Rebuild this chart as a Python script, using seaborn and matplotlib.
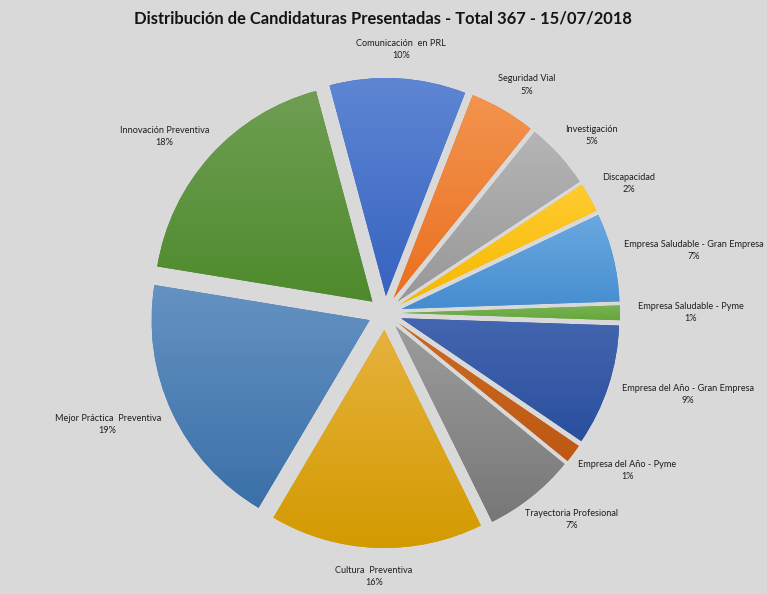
import numpy as np
import matplotlib
matplotlib.use("Agg")
import matplotlib.pyplot as plt
import seaborn as sns
from matplotlib.colors import LinearSegmentedColormap

# ---- data ----
categorias = [
    "Comunicación  en PRL",
    "Seguridad Vial",
    "Investigación",
    "Discapacidad",
    "Empresa Saludable - Gran Empresa",
    "Empresa Saludable - Pyme",
    "Empresa del Año - Gran Empresa",
    "Empresa del Año - Pyme",
    "Trayectoria Profesional",
    "Cultura  Preventiva",
    "Mejor Práctica  Preventiva",
    "Innovación Preventiva",
]
candidaturas = [37, 18, 18, 8, 24, 4, 33, 5, 25, 58, 70, 67]
titulo = "Distribución de Candidaturas Presentadas - Total 367 - 15/07/2018"

color_arriba = ["#5E86D4", "#F3944F", "#B5B5B5", "#FFCB30", "#6AA9E0", "#78B451",
                "#4466B0", "#CC6A24", "#9C9C9C", "#E6B23C", "#6592C2", "#6F9E53"]
color_abajo = ["#3763C0", "#EA7020", "#989898", "#F6B800", "#468DD0", "#66A63C",
               "#2A4F9E", "#BE5812", "#777777", "#D39A00", "#3A70A8", "#4E8A2C"]

# ---- style ----
BG = "#D9D9D9"
sns.set_theme(style="white", rc={"figure.facecolor": BG, "axes.facecolor": BG})
plt.rcParams["font.family"] = ["Lato", "DejaVu Sans"]

W, H, DPI = 767, 594, 100
fig = plt.figure(figsize=(W / DPI, H / DPI), dpi=DPI)
ax = fig.add_axes([0, 0, 1, 1])
ax.set_facecolor(BG)

cx_px, cy_px, scale = 385, 313, 218.0   # pie centre (pixels) and pixels per unit
explode = 0.078

wedges, _ = ax.pie(candidaturas, colors=color_abajo, explode=[explode] * len(candidaturas),
                   startangle=105, counterclock=False, radius=1.0,
                   wedgeprops=dict(linewidth=0))

# gradient fill for each wedge
for w, c1, c2 in zip(wedges, color_arriba, color_abajo):
    ext = w.get_path().get_extents()
    cmap = LinearSegmentedColormap.from_list("g", [c2, c1])
    grad = np.linspace(0, 1, 256).reshape(-1, 1)
    im = ax.imshow(grad, cmap=cmap, origin="lower", aspect="auto",
                   extent=(ext.x0, ext.x1, ext.y0, ext.y1), zorder=w.get_zorder() + 0.1,
                   interpolation="bilinear")
    im.set_clip_path(w)

ax.set_aspect("auto")
x_min, x_max = (0 - cx_px) / scale, (W - cx_px) / scale
ax.set_xlim(x_min, x_max)
ax.set_ylim((cy_px - H) / scale, cy_px / scale)
ax.axis("off")

# ---- labels (outside end, Excel-like) ----
total = sum(candidaturas)
fig.canvas.draw()
renderer = fig.canvas.get_renderer()
r_anchor = 253.0 / scale
margin = 3.0 / scale
for w, cat, n in zip(wedges, categorias, candidaturas):
    th = np.deg2rad((w.theta1 + w.theta2) / 2)
    ux, uy = np.cos(th), np.sin(th)
    pct = round(100 * n / total)
    t = ax.text(0, 0, f"{cat}\n{pct}%", ha="center", va="center", multialignment="center",
                fontsize=6.6, color="#1e1e1e", linespacing=1.45)
    bb = t.get_window_extent(renderer)
    hw, hh = bb.width / 2 / scale, bb.height / 2 / scale
    x = r_anchor * ux + hw * ux
    y = r_anchor * uy + hh * uy
    x = min(max(x, x_min + hw + margin), x_max - hw - margin)
    t.set_position((x, y))

fig.text(383 / W, 1 - 19 / H, titulo, ha="center", va="center",
         fontsize=11.9, fontweight="bold", color="#141414")

fig.savefig("out.png", dpi=DPI, facecolor=BG)
